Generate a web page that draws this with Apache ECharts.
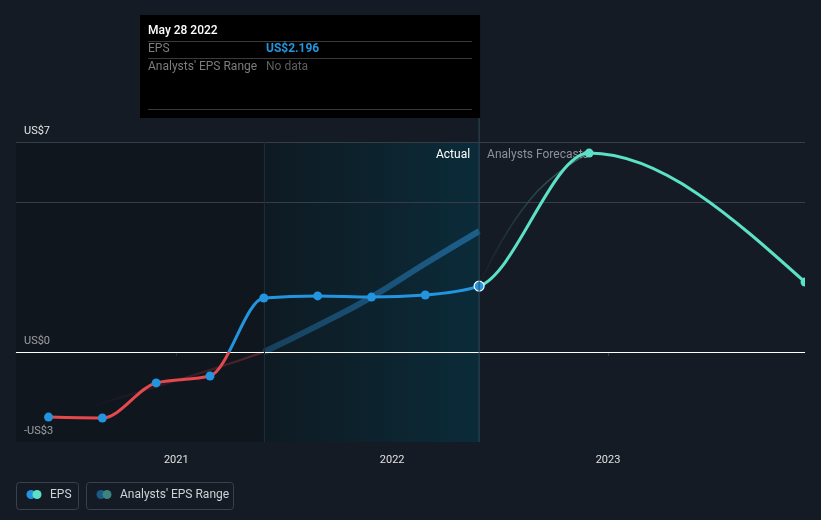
<!DOCTYPE html>
<html><head><meta charset="utf-8">
<script src="https://cdn.jsdelivr.net/npm/echarts@6/dist/echarts.min.js"></script>
<style>html,body{margin:0;padding:0;background:#151b24;}#c{width:821px;height:520px;}</style>
</head><body><div id="c"></div>
<script>
// ---- data ----
const actualDates = ['2020-05-30','2020-08-29','2020-11-28','2021-02-27','2021-05-29','2021-08-28','2021-11-27','2022-02-26','2022-05-28'];
const actualEps   = [-2.17, -2.2, -1.03, -0.8, 1.8, 1.87, 1.83, 1.9, 2.196];
const forecastDates = ['2022-05-28','2022-11-30','2023-11-30'];
const forecastEps   = [2.196, 6.63, 2.33];
const rangeDates  = ['2021-05-29','2021-08-28','2021-11-27','2022-02-26','2022-05-28'];
const rangeValues = [0, 0.88, 1.83, 2.95, 4.03];
const rangeTailDates  = ['2020-08-08','2021-02-27','2021-05-29'];
const rangeTailValues = [-1.83, -0.6, 0];
const fcRangeDates  = ['2022-05-28','2022-08-23','2022-11-30'];
const fcRangeValues = [2.196, 5.1, 6.63];
const yTickLabels = {7:'US$7', 0:'US$0', '-3':'-US$3'};
const gridValues = [7, 5];
const axisStart = '2020-04-05';
const axisEnd = '2023-11-30';
const pastStart = '2021-05-29';
const todayDate = '2022-05-28';
const tipTitle = 'May 28 2022';
const tipRows = [['EPS','US$2.196'],["Analysts' EPS Range",'No data']];
const legendItems = ['EPS',"Analysts' EPS Range"];

const ts = d => +new Date(d + 'T00:00:00Z');
const zip = (a, b) => a.map((d, i) => [ts(d), b[i]]);
const FONT = 'Roboto';

const actualPts = zip(actualDates, actualEps);
const forecastPts = zip(forecastDates, forecastEps);
const epsAll = actualPts.concat(forecastPts.slice(1));
const splitIdx = actualPts.length - 1;

// monotone-x cubic path (d3 curveMonotoneX) from pixel points
function monotoneSegments(p) {
  const n = p.length, h = [], s = [], t = new Array(n);
  const sign = v => v < 0 ? -1 : 1;
  for (let i = 0; i < n - 1; i++) { h[i] = p[i + 1][0] - p[i][0]; s[i] = (p[i + 1][1] - p[i][1]) / h[i]; }
  for (let i = 1; i < n - 1; i++) {
    const pp = (s[i - 1] * h[i] + s[i] * h[i - 1]) / (h[i - 1] + h[i]);
    t[i] = (sign(s[i - 1]) + sign(s[i])) * Math.min(Math.abs(s[i - 1]), Math.abs(s[i]), 0.5 * Math.abs(pp)) || 0;
  }
  t[0] = (3 * s[0] - t[1]) / 2;
  t[n - 1] = (3 * s[n - 2] - t[n - 2]) / 2;
  const segs = [];
  for (let i = 0; i < n - 1; i++) {
    const dx = h[i] / 3;
    segs.push([p[i][0] + dx, p[i][1] + dx * t[i], p[i + 1][0] - dx, p[i + 1][1] - dx * t[i + 1], p[i + 1][0], p[i + 1][1]]);
  }
  return segs;
}

const chart = echarts.init(document.getElementById('c'), null, {renderer: 'canvas'});
const option = {
  backgroundColor: '#151b24',
  animation: false,
  textStyle: {fontFamily: FONT},
  grid: {left: 16, right: 16, top: 142, bottom: 78},
  xAxis: {
    type: 'time', min: ts(axisStart), max: ts(axisEnd),
    minInterval: 365 * 86400000, maxInterval: 366 * 86400000,
    axisLine: {show: true, lineStyle: {color: '#3b414b', width: 1}},
    axisTick: {show: true, length: 4, lineStyle: {color: '#3b414b'}},
    axisLabel: {color: '#e0e0e0', fontSize: 11, margin: 13, formatter: '{yyyy}', fontFamily: FONT},
    splitLine: {show: false}
  },
  yAxis: {
    type: 'value', min: -3, max: 7, interval: 1,
    splitLine: {show: false}, axisLine: {show: false}, axisTick: {show: false},
    axisLabel: {
      inside: true, margin: 8, verticalAlign: 'bottom', padding: [0, 0, 5, 0],
      color: '#e6e6e6', fontSize: 11, fontFamily: FONT,
      formatter: v => yTickLabels[v] || ''
    }
  },
  series: [
    { // background regions + grid lines
      type: 'line', data: [], silent: true,
      markArea: {
        silent: true,
        data: [
          [{xAxis: ts(axisStart), itemStyle: {color: 'rgba(10,14,20,0.35)'}}, {xAxis: ts(pastStart)}],
          [{xAxis: ts(pastStart), itemStyle: {color: new echarts.graphic.LinearGradient(0, 0, 1, 0, [
              {offset: 0, color: 'rgba(14,26,34,1)'}, {offset: 1, color: 'rgba(11,43,57,1)'}])}},
           {xAxis: ts(todayDate)}]
        ]
      },
      markLine: {
        silent: true, symbol: 'none', label: {show: false},
        data: gridValues.map(v => ({yAxis: v, lineStyle: {color: '#373d47', width: 1, type: 'solid'}}))
          .concat([{yAxis: 0, lineStyle: {color: '#ffffff', width: 1.2, type: 'solid'}},
                   {xAxis: ts(pastStart), lineStyle: {color: '#1c2c36', width: 1, type: 'solid'}}])
      }
    },
    { // faint tail of range line
      type: 'line', data: zip(rangeTailDates, rangeTailValues), smooth: true, symbol: 'none', silent: true,
      lineStyle: {width: 2, color: new echarts.graphic.LinearGradient(0, 0, 1, 0, [
        {offset: 0, color: 'rgba(180,50,60,0)'}, {offset: 1, color: 'rgba(170,55,65,0.45)'}])}
    },
    { // analysts range trend (past)
      type: 'line', data: zip(rangeDates, rangeValues), smooth: true, symbol: 'none', silent: true,
      lineStyle: {width: 6, color: new echarts.graphic.LinearGradient(0, 0, 1, 0, [
        {offset: 0, color: 'rgba(30,95,140,0.55)'}, {offset: 1, color: 'rgba(32,105,155,0.85)'}])}
    },
    { // forecast faint range line
      type: 'line', data: zip(fcRangeDates, fcRangeValues), smooth: true, symbol: 'none', silent: true,
      lineStyle: {width: 1.5, color: new echarts.graphic.LinearGradient(0, 1, 1, 0, [
        {offset: 0, color: 'rgba(80,160,150,0)'}, {offset: 1, color: 'rgba(80,170,160,0.5)'}])}
    },
    { // EPS line (actual + forecast), monotone curve through the axis scales
      type: 'custom', data: epsAll, silent: true, clip: true, z: 5,
      encode: {x: 0, y: 1},
      renderItem: (params, api) => {
        if (params.dataIndex !== 0) return null;
        const px = epsAll.map(p => api.coord(p));
        const segs = monotoneSegments(px);
        const zeroY = api.coord([epsAll[0][0], 0])[1];
        const mk = (a, b) => {
          let d = 'M' + px[a][0] + ' ' + px[a][1];
          for (let i = a; i < b; i++) d += ' C' + segs[i].join(' ');
          return d;
        };
        const dots = px.slice(splitIdx + 1).map(q => ({type: 'circle', shape: {cx: q[0], cy: q[1], r: 4.5}, style: {fill: '#5ce0c6'}}));
        return {type: 'group', children: [
          {type: 'path', shape: {pathData: mk(0, splitIdx)}, style: {fill: 'none', lineWidth: 3, lineCap: 'round',
            stroke: new echarts.graphic.LinearGradient(0, zeroY - 0.5, 0, zeroY + 0.5, [
              {offset: 0, color: '#2394df'}, {offset: 1, color: '#e5484d'}], true)}},
          {type: 'path', shape: {pathData: mk(splitIdx, epsAll.length - 1)}, style: {fill: 'none', lineWidth: 3, stroke: '#5ce0c6'}}
        ].concat(dots)};
      }
    },
    { // actual points
      type: 'scatter', silent: true, z: 6, symbolSize: 9,
      itemStyle: {color: '#2394df', opacity: 1},
      data: actualPts.map((p, i) => i === actualPts.length - 1 ?
        {value: p, itemStyle: {borderColor: '#ffffff', borderWidth: 1.2}, symbolSize: 10} : {value: p})
    }
  ]
};
chart.setOption(option);

const xDiv = chart.convertToPixel({xAxisIndex: 0}, ts(todayDate));
const yTop = chart.convertToPixel({yAxisIndex: 0}, 7);
const yBot = chart.convertToPixel({yAxisIndex: 0}, -3);

const tipL = 140, tipT = 15, tipB = 118;
const gfx = [
  {type: 'line', shape: {x1: xDiv, y1: tipB, x2: xDiv, y2: yBot}, style: {stroke: '#2a4c5a', lineWidth: 1}, z: 10},
  {type: 'text', x: xDiv - 9, y: yTop + 13, style: {text: 'Actual', fill: '#ffffff', font: '12px ' + FONT, align: 'right', verticalAlign: 'middle'}, z: 10},
  {type: 'text', x: xDiv + 8, y: yTop + 13, style: {text: 'Analysts Forecasts', fill: '#8b9099', font: '12px ' + FONT, align: 'left', verticalAlign: 'middle'}, z: 4},
  {type: 'rect', shape: {x: tipL, y: tipT, width: xDiv + 1 - tipL, height: tipB - tipT}, style: {fill: '#000000'}, z: 20},
  {type: 'text', x: tipL + 8, y: 31, style: {text: tipTitle, fill: '#ffffff', font: '500 12px ' + FONT, verticalAlign: 'middle'}, z: 21},
  {type: 'line', shape: {x1: tipL + 8, y1: 41.5, x2: xDiv - 7, y2: 41.5}, style: {stroke: '#3a3a3a', lineWidth: 1}, z: 21},
  {type: 'text', x: tipL + 8, y: 49, style: {text: tipRows[0][0], fill: '#7d7d7d', font: '12px ' + FONT, verticalAlign: 'middle'}, z: 21},
  {type: 'text', x: tipL + 126, y: 49, style: {text: tipRows[0][1], fill: '#2394df', font: 'bold 12px ' + FONT, verticalAlign: 'middle'}, z: 21},
  {type: 'line', shape: {x1: tipL + 8, y1: 58.5, x2: xDiv - 7, y2: 58.5}, style: {stroke: '#3a3a3a', lineWidth: 1}, z: 21},
  {type: 'text', x: tipL + 8, y: 67, style: {text: tipRows[1][0], fill: '#7d7d7d', font: '12px ' + FONT, verticalAlign: 'middle'}, z: 21},
  {type: 'text', x: tipL + 126, y: 67, style: {text: tipRows[1][1], fill: '#5e5e5e', font: '12px ' + FONT, verticalAlign: 'middle'}, z: 21},
  {type: 'line', shape: {x1: tipL + 8, y1: 109.5, x2: xDiv - 7, y2: 109.5}, style: {stroke: '#3a3a3a', lineWidth: 1}, z: 21},
  // legend
  {type: 'rect', shape: {x: 16.5, y: 482.5, width: 62, height: 27, r: 3}, style: {fill: 'none', stroke: '#3b414b', lineWidth: 1}, z: 10},
  {type: 'circle', shape: {cx: 31, cy: 494.5, r: 4.5}, style: {fill: '#2394df'}, z: 10},
  {type: 'circle', shape: {cx: 37, cy: 494.5, r: 4.5}, style: {fill: '#5ce0c6'}, z: 11},
  {type: 'text', x: 50, y: 495, style: {text: legendItems[0], fill: '#cfd2d6', font: '12px ' + FONT, verticalAlign: 'middle'}, z: 10},
  {type: 'rect', shape: {x: 86.5, y: 482.5, width: 147, height: 27, r: 3}, style: {fill: 'none', stroke: '#3b414b', lineWidth: 1}, z: 10},
  {type: 'circle', shape: {cx: 101, cy: 494.5, r: 4.5}, style: {fill: '#1c5a85'}, z: 10},
  {type: 'circle', shape: {cx: 107, cy: 494.5, r: 4.5}, style: {fill: '#3d837f'}, z: 11},
  {type: 'text', x: 120, y: 495, style: {text: legendItems[1], fill: '#cfd2d6', font: '12px ' + FONT, verticalAlign: 'middle'}, z: 10}
];
chart.setOption({graphic: {elements: gfx}});
</script></body></html>
